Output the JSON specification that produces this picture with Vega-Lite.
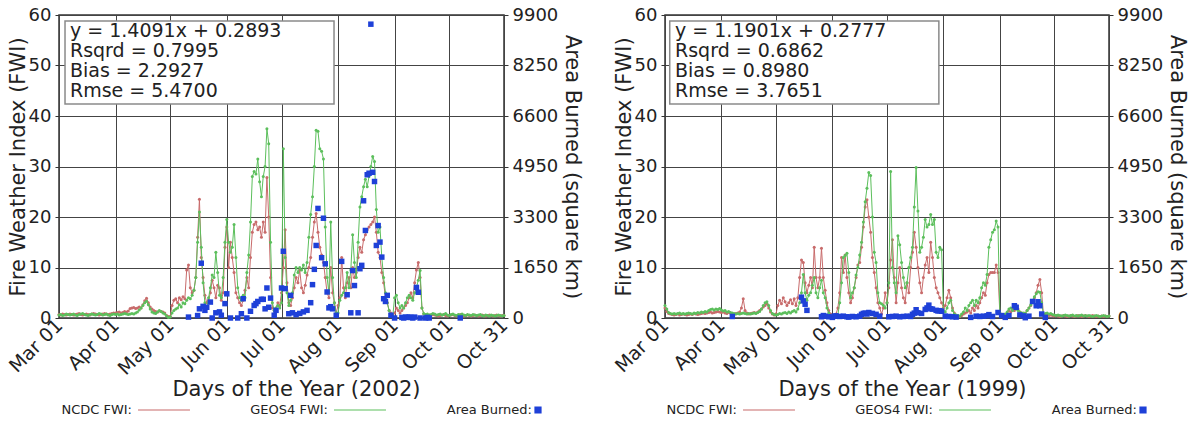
{
  "$schema": "https://vega.github.io/schema/vega-lite/v6.json",
  "background": "white",
  "padding": {"left": 5, "right": 5, "top": 5, "bottom": 0},
  "bounds": "flush",
  "spacing": 161,
  "config": {
    "font": "DejaVu Sans",
    "view": {"stroke": "#333333", "strokeWidth": 1.5},
    "axis": {
      "labelFont": "DejaVu Sans", "labelFontSize": 18, "labelColor": "#222222",
      "titleFont": "DejaVu Sans", "titleFontSize": 21, "titleFontWeight": "normal", "titleColor": "#222222",
      "gridColor": "#444444", "gridOpacity": 1, "gridWidth": 1,
      "domain": false, "tickColor": "#333333", "tickSize": 4
    }
  },
  "resolve": {"legend": {"color": "independent"}},
  "hconcat": [
    {
      "width": 445, "height": 303,
      "resolve": {"scale": {"y": "independent"}},
      "layer": [
        {
          "data": {"name": "fwi2002"},
          "layer": [
            {
              "mark": {"type": "line", "strokeWidth": 1, "point": {"size": 9, "filled": true}},
              "encoding": {
                "x": {"field": "day", "type": "quantitative", "scale": {"domain": [60, 304], "nice": false, "zero": false},
                  "axis": {"values": [60, 91, 121, 152, 182, 213, 244, 274, 304], "labelAngle": -45, "labelAlign": "right", "labelBaseline": "middle", "labelFontSize": 19, "labelOverlap": false, "grid": true, "ticks": false, "labelPadding": 4, "title": "Days of the Year (2002)", "titlePadding": 0, "titleX": 237,
                    "labelExpr": "['Mar 01','Apr 01','May 01','Jun 01','Jul 01','Aug 01','Sep 01','Oct 01','Oct 31'][indexof([60,91,121,152,182,213,244,274,304], datum.value)]"}},
                "y": {"field": "ncdc", "type": "quantitative", "scale": {"domain": [0, 60], "nice": false},
                  "axis": {"values": [0, 10, 20, 30, 40, 50, 60], "grid": true, "title": "Fire Weather Index (FWI)", "labelPadding": 4, "titlePadding": 0}},
                "color": {"datum": "NCDC FWI:", "type": "nominal",
                  "scale": {"domain": ["NCDC FWI:", "GEOS4 FWI:", "Area Burned:"], "range": ["#c86b6b", "#5cbf5c", "#1e40d8"]},
                  "legend": {"title": null, "orient": "none", "legendX": 79, "legendY": 368, "padding": 0, "direction": "horizontal", "labelFont": "DejaVu Sans", "labelFontSize": 13, "labelColor": "#222222",
                    "labelAlign": "right", "labelOffset": -60, "symbolType": "stroke", "symbolSize": 2700, "symbolStrokeWidth": 1.2, "columnPadding": 57,
                    "encode": {"symbols": {"update": {
                      "shape": {"signal": "datum.value === 'Area Burned:' ? 'square' : 'stroke'"},
                      "size": {"signal": "datum.value === 'Area Burned:' ? 36 : 2700"},
                      "x": {"signal": "datum.value === 'Area Burned:' ? 0 : 26"},
                      "fill": {"signal": "datum.value === 'Area Burned:' ? '#1e40d8' : 'transparent'"},
                      "stroke": {"signal": "datum.value === 'NCDC FWI:' ? '#d9a0a0' : datum.value === 'GEOS4 FWI:' ? '#9fd69f' : '#1e40d8'"}
                    }}}}}
              }
            },
            {
              "mark": {"type": "line", "strokeWidth": 1, "point": {"size": 9, "filled": true}},
              "encoding": {
                "x": {"field": "day", "type": "quantitative"},
                "y": {"field": "geos4", "type": "quantitative"},
                "color": {"datum": "GEOS4 FWI:", "type": "nominal"}
              }
            },
            {
              "data": {"values": [{}]},
              "mark": {"type": "rect", "fill": "white", "stroke": "#8a8a8a", "strokeWidth": 1.5},
              "encoding": {"x": {"datum": 63.3}, "x2": {"datum": 210.8}, "y": {"datum": 58.8}, "y2": {"datum": 42.4}}
            },
            {
              "data": {"values": [{}]},
              "mark": {"type": "text", "align": "left", "baseline": "alphabetic", "fontSize": 19, "lineHeight": 20, "color": "#222222"},
              "encoding": {"x": {"datum": 66}, "y": {"datum": 55.6},
                "text": {"value": ["y = 1.4091x + 0.2893", "Rsqrd = 0.7995", "Bias = 2.2927", "Rmse = 5.4700"]}}
            }
          ]
        },
        {
          "data": {"name": "burn2002"},
          "mark": {"type": "square", "size": 30, "filled": true, "opacity": 1},
          "encoding": {
            "x": {"field": "day", "type": "quantitative"},
            "y": {"field": "area", "type": "quantitative", "scale": {"domain": [0, 9900], "nice": false},
              "axis": {"orient": "right", "values": [0, 1650, 3300, 4950, 6600, 8250, 9900], "format": "d", "grid": false, "title": "Area Burned (square km)", "labelPadding": 4, "titlePadding": 4}},
            "color": {"datum": "Area Burned:", "type": "nominal"}
          }
        }
      ]
    },
    {
      "width": 444, "height": 303,
      "resolve": {"scale": {"y": "independent"}},
      "layer": [
        {
          "data": {"name": "fwi1999"},
          "layer": [
            {
              "mark": {"type": "line", "strokeWidth": 1, "point": {"size": 9, "filled": true}},
              "encoding": {
                "x": {"field": "day", "type": "quantitative", "scale": {"domain": [60, 304], "nice": false, "zero": false},
                  "axis": {"values": [60, 91, 121, 152, 182, 213, 244, 274, 304], "labelAngle": -45, "labelAlign": "right", "labelBaseline": "middle", "labelFontSize": 19, "labelOverlap": false, "grid": true, "ticks": false, "labelPadding": 4, "title": "Days of the Year (1999)", "titlePadding": 0, "titleX": 237,
                    "labelExpr": "['Mar 01','Apr 01','May 01','Jun 01','Jul 01','Aug 01','Sep 01','Oct 01','Oct 31'][indexof([60,91,121,152,182,213,244,274,304], datum.value)]"}},
                "y": {"field": "ncdc", "type": "quantitative", "scale": {"domain": [0, 60], "nice": false},
                  "axis": {"values": [0, 10, 20, 30, 40, 50, 60], "grid": true, "title": "Fire Weather Index (FWI)", "labelPadding": 4, "titlePadding": 0}},
                "color": {"datum": "NCDC FWI:", "type": "nominal",
                  "scale": {"domain": ["NCDC FWI:", "GEOS4 FWI:", "Area Burned:"], "range": ["#c86b6b", "#5cbf5c", "#1e40d8"]},
                  "legend": {"title": null, "orient": "none", "legendX": 78, "legendY": 368, "padding": 0, "direction": "horizontal", "labelFont": "DejaVu Sans", "labelFontSize": 13, "labelColor": "#222222",
                    "labelAlign": "right", "labelOffset": -60, "symbolType": "stroke", "symbolSize": 2700, "symbolStrokeWidth": 1.2, "columnPadding": 57,
                    "encode": {"symbols": {"update": {
                      "shape": {"signal": "datum.value === 'Area Burned:' ? 'square' : 'stroke'"},
                      "size": {"signal": "datum.value === 'Area Burned:' ? 36 : 2700"},
                      "x": {"signal": "datum.value === 'Area Burned:' ? 0 : 26"},
                      "fill": {"signal": "datum.value === 'Area Burned:' ? '#1e40d8' : 'transparent'"},
                      "stroke": {"signal": "datum.value === 'NCDC FWI:' ? '#d9a0a0' : datum.value === 'GEOS4 FWI:' ? '#9fd69f' : '#1e40d8'"}
                    }}}}}
              }
            },
            {
              "mark": {"type": "line", "strokeWidth": 1, "point": {"size": 9, "filled": true}},
              "encoding": {
                "x": {"field": "day", "type": "quantitative"},
                "y": {"field": "geos4", "type": "quantitative"},
                "color": {"datum": "GEOS4 FWI:", "type": "nominal"}
              }
            },
            {
              "data": {"values": [{}]},
              "mark": {"type": "rect", "fill": "white", "stroke": "#8a8a8a", "strokeWidth": 1.5},
              "encoding": {"x": {"datum": 62.6}, "x2": {"datum": 210.5}, "y": {"datum": 58.8}, "y2": {"datum": 42.4}}
            },
            {
              "data": {"values": [{}]},
              "mark": {"type": "text", "align": "left", "baseline": "alphabetic", "fontSize": 19, "lineHeight": 20, "color": "#222222"},
              "encoding": {"x": {"datum": 65.5}, "y": {"datum": 55.6},
                "text": {"value": ["y = 1.1901x + 0.2777", "Rsqrd = 0.6862", "Bias = 0.8980", "Rmse = 3.7651"]}}
            }
          ]
        },
        {
          "data": {"name": "burn1999"},
          "mark": {"type": "square", "size": 30, "filled": true, "opacity": 1},
          "encoding": {
            "x": {"field": "day", "type": "quantitative"},
            "y": {"field": "area", "type": "quantitative", "scale": {"domain": [0, 9900], "nice": false},
              "axis": {"orient": "right", "values": [0, 1650, 3300, 4950, 6600, 8250, 9900], "format": "d", "grid": false, "title": "Area Burned (square km)", "labelPadding": 4, "titlePadding": 4}},
            "color": {"datum": "Area Burned:", "type": "nominal"}
          }
        }
      ]
    }
  ],
  "datasets": {
    "fwi2002": [
      {"day":60,"ncdc":0.7,"geos4":0.6},{"day":61,"ncdc":0.6,"geos4":0.7},{"day":62,"ncdc":0.8,"geos4":0.5},{"day":63,"ncdc":0.7,"geos4":0.6},{"day":64,"ncdc":0.6,"geos4":0.8},
      {"day":65,"ncdc":0.7,"geos4":0.7},{"day":66,"ncdc":0.8,"geos4":0.6},{"day":67,"ncdc":0.7,"geos4":0.7},{"day":68,"ncdc":0.6,"geos4":0.8},{"day":69,"ncdc":0.7,"geos4":0.6},
      {"day":70,"ncdc":0.8,"geos4":0.5},{"day":71,"ncdc":0.9,"geos4":0.7},{"day":72,"ncdc":0.7,"geos4":0.8},{"day":73,"ncdc":0.6,"geos4":0.9},{"day":74,"ncdc":0.7,"geos4":0.7},
      {"day":75,"ncdc":0.8,"geos4":0.6},{"day":76,"ncdc":0.7,"geos4":0.5},{"day":77,"ncdc":0.6,"geos4":0.7},{"day":78,"ncdc":0.8,"geos4":0.8},{"day":79,"ncdc":0.9,"geos4":0.7},
      {"day":80,"ncdc":0.8,"geos4":0.6},{"day":81,"ncdc":0.7,"geos4":0.7},{"day":82,"ncdc":0.6,"geos4":0.9},{"day":83,"ncdc":0.7,"geos4":0.8},{"day":84,"ncdc":0.8,"geos4":0.6},
      {"day":85,"ncdc":0.9,"geos4":0.7},{"day":86,"ncdc":0.8,"geos4":0.8},{"day":87,"ncdc":0.7,"geos4":0.6},{"day":88,"ncdc":0.8,"geos4":0.5},{"day":89,"ncdc":0.9,"geos4":0.7},
      {"day":90,"ncdc":1.0,"geos4":0.8},{"day":91,"ncdc":1.0,"geos4":0.7},{"day":92,"ncdc":1.1,"geos4":0.8},{"day":93,"ncdc":1.2,"geos4":0.6},{"day":94,"ncdc":1.0,"geos4":0.7},
      {"day":95,"ncdc":1.1,"geos4":0.8},{"day":96,"ncdc":1.3,"geos4":0.9},{"day":97,"ncdc":1.2,"geos4":0.8},{"day":98,"ncdc":1.4,"geos4":0.7},{"day":99,"ncdc":1.9,"geos4":0.8},
      {"day":100,"ncdc":2.0,"geos4":0.9},{"day":101,"ncdc":2.1,"geos4":0.8},{"day":102,"ncdc":1.9,"geos4":1.0},{"day":103,"ncdc":2.0,"geos4":1.2},{"day":104,"ncdc":2.2,"geos4":1.6},
      {"day":105,"ncdc":2.0,"geos4":2.0},{"day":106,"ncdc":2.6,"geos4":2.5},{"day":107,"ncdc":3.4,"geos4":3.0},{"day":108,"ncdc":3.9,"geos4":3.3},{"day":109,"ncdc":3.0,"geos4":2.6},
      {"day":110,"ncdc":2.2,"geos4":1.8},{"day":111,"ncdc":1.8,"geos4":1.2},{"day":112,"ncdc":1.5,"geos4":1.0},{"day":113,"ncdc":1.3,"geos4":0.9},{"day":114,"ncdc":1.2,"geos4":1.2},
      {"day":115,"ncdc":1.4,"geos4":1.5},{"day":116,"ncdc":1.3,"geos4":1.3},{"day":117,"ncdc":1.2,"geos4":1.0},{"day":118,"ncdc":1.0,"geos4":0.8},{"day":119,"ncdc":0.5,"geos4":0.4},
      {"day":120,"ncdc":0.3,"geos4":0.1},{"day":121,"ncdc":0.3,"geos4":0.2},{"day":122,"ncdc":2.5,"geos4":1.0},{"day":123,"ncdc":3.5,"geos4":1.5},{"day":124,"ncdc":3.8,"geos4":1.8},
      {"day":125,"ncdc":3.0,"geos4":2.0},{"day":126,"ncdc":4.0,"geos4":2.6},{"day":127,"ncdc":3.6,"geos4":2.2},{"day":128,"ncdc":4.2,"geos4":3.0},{"day":129,"ncdc":3.8,"geos4":2.8},
      {"day":130,"ncdc":9.5,"geos4":3.5},{"day":131,"ncdc":10.5,"geos4":4.0},{"day":132,"ncdc":6.0,"geos4":3.8},{"day":133,"ncdc":5.0,"geos4":4.5},{"day":134,"ncdc":5.5,"geos4":5.5},
      {"day":135,"ncdc":8.0,"geos4":8.0},{"day":136,"ncdc":16.0,"geos4":15.0},{"day":137,"ncdc":23.5,"geos4":21.0},{"day":138,"ncdc":12.0,"geos4":14.0},{"day":139,"ncdc":8.0,"geos4":7.0},
      {"day":140,"ncdc":4.5,"geos4":3.0},{"day":141,"ncdc":3.0,"geos4":2.0},{"day":142,"ncdc":3.5,"geos4":4.0},{"day":143,"ncdc":5.0,"geos4":6.0},{"day":144,"ncdc":7.5,"geos4":8.5},
      {"day":145,"ncdc":6.0,"geos4":8.0},{"day":146,"ncdc":4.0,"geos4":13.0},{"day":147,"ncdc":6.5,"geos4":9.0},{"day":148,"ncdc":6.0,"geos4":4.5},{"day":149,"ncdc":3.5,"geos4":4.0},
      {"day":150,"ncdc":5.0,"geos4":8.0},{"day":151,"ncdc":14.0,"geos4":15.0},{"day":152,"ncdc":18.0,"geos4":19.5},{"day":153,"ncdc":10.0,"geos4":15.0},{"day":154,"ncdc":15.0,"geos4":13.0},
      {"day":155,"ncdc":12.0,"geos4":14.0},{"day":156,"ncdc":9.0,"geos4":18.5},{"day":157,"ncdc":5.0,"geos4":12.0},{"day":158,"ncdc":4.0,"geos4":6.0},{"day":159,"ncdc":3.0,"geos4":4.0},
      {"day":160,"ncdc":2.5,"geos4":3.5},{"day":161,"ncdc":3.5,"geos4":4.5},{"day":162,"ncdc":5.5,"geos4":4.0},{"day":163,"ncdc":8.0,"geos4":9.0},{"day":164,"ncdc":6.0,"geos4":12.5},
      {"day":165,"ncdc":12.0,"geos4":19.0},{"day":166,"ncdc":17.0,"geos4":28.0},{"day":167,"ncdc":18.5,"geos4":29.0},{"day":168,"ncdc":19.0,"geos4":28.5},{"day":169,"ncdc":17.5,"geos4":31.5},
      {"day":170,"ncdc":18.0,"geos4":27.0},{"day":171,"ncdc":16.0,"geos4":24.0},{"day":172,"ncdc":19.0,"geos4":28.0},{"day":173,"ncdc":17.0,"geos4":30.0},{"day":174,"ncdc":27.8,"geos4":37.5},
      {"day":175,"ncdc":20.0,"geos4":34.5},{"day":176,"ncdc":8.0,"geos4":15.0},{"day":177,"ncdc":2.0,"geos4":3.0},{"day":178,"ncdc":1.5,"geos4":1.5},{"day":179,"ncdc":2.0,"geos4":2.0},
      {"day":180,"ncdc":3.0,"geos4":2.5},{"day":181,"ncdc":2.5,"geos4":2.0},{"day":182,"ncdc":5.0,"geos4":3.0},{"day":183,"ncdc":10.0,"geos4":33.5},{"day":184,"ncdc":17.5,"geos4":12.0},
      {"day":185,"ncdc":7.0,"geos4":5.0},{"day":186,"ncdc":3.0,"geos4":2.5},{"day":187,"ncdc":2.5,"geos4":3.5},{"day":188,"ncdc":4.0,"geos4":5.0},{"day":189,"ncdc":6.0,"geos4":8.5},
      {"day":190,"ncdc":8.0,"geos4":10.0},{"day":191,"ncdc":7.0,"geos4":9.0},{"day":192,"ncdc":9.5,"geos4":10.0},{"day":193,"ncdc":6.0,"geos4":9.5},{"day":194,"ncdc":5.0,"geos4":10.5},
      {"day":195,"ncdc":6.5,"geos4":9.0},{"day":196,"ncdc":8.5,"geos4":11.0},{"day":197,"ncdc":10.0,"geos4":16.0},{"day":198,"ncdc":12.0,"geos4":20.5},{"day":199,"ncdc":16.0,"geos4":24.0},
      {"day":200,"ncdc":19.0,"geos4":30.0},{"day":201,"ncdc":20.7,"geos4":37.2},{"day":202,"ncdc":17.0,"geos4":37.0},{"day":203,"ncdc":14.0,"geos4":33.5},{"day":204,"ncdc":12.5,"geos4":33.0},
      {"day":205,"ncdc":11.0,"geos4":31.5},{"day":206,"ncdc":8.0,"geos4":18.0},{"day":207,"ncdc":5.0,"geos4":8.0},{"day":208,"ncdc":4.0,"geos4":5.0},{"day":209,"ncdc":10.0,"geos4":19.0},
      {"day":210,"ncdc":5.0,"geos4":8.0},{"day":211,"ncdc":3.0,"geos4":3.0},{"day":212,"ncdc":1.0,"geos4":1.0},{"day":213,"ncdc":2.5,"geos4":1.0},{"day":214,"ncdc":4.0,"geos4":3.5},
      {"day":215,"ncdc":12.0,"geos4":4.5},{"day":216,"ncdc":6.0,"geos4":5.0},{"day":217,"ncdc":4.0,"geos4":6.0},{"day":218,"ncdc":7.0,"geos4":9.0},{"day":219,"ncdc":8.0,"geos4":6.0},
      {"day":220,"ncdc":6.0,"geos4":9.5},{"day":221,"ncdc":10.0,"geos4":16.5},{"day":222,"ncdc":8.0,"geos4":11.0},{"day":223,"ncdc":9.0,"geos4":8.0},{"day":224,"ncdc":12.0,"geos4":15.0},
      {"day":225,"ncdc":14.0,"geos4":22.0},{"day":226,"ncdc":13.0,"geos4":24.0},{"day":227,"ncdc":15.5,"geos4":26.0},{"day":228,"ncdc":16.5,"geos4":27.5},{"day":229,"ncdc":17.5,"geos4":26.0},
      {"day":230,"ncdc":18.0,"geos4":28.0},{"day":231,"ncdc":18.5,"geos4":30.0},{"day":232,"ncdc":19.0,"geos4":32.0},{"day":233,"ncdc":20.0,"geos4":31.0},{"day":234,"ncdc":17.0,"geos4":21.5},
      {"day":235,"ncdc":13.0,"geos4":17.0},{"day":236,"ncdc":12.0,"geos4":18.0},{"day":237,"ncdc":9.0,"geos4":12.0},{"day":238,"ncdc":7.0,"geos4":8.0},{"day":239,"ncdc":4.0,"geos4":5.0},
      {"day":240,"ncdc":3.0,"geos4":3.0},{"day":241,"ncdc":1.5,"geos4":1.5},{"day":242,"ncdc":1.0,"geos4":0.5},{"day":243,"ncdc":0.5,"geos4":0.3},{"day":244,"ncdc":1.0,"geos4":4.0},
      {"day":245,"ncdc":2.0,"geos4":4.5},{"day":246,"ncdc":1.5,"geos4":3.0},{"day":247,"ncdc":1.0,"geos4":2.0},{"day":248,"ncdc":1.5,"geos4":2.5},{"day":249,"ncdc":2.0,"geos4":2.0},
      {"day":250,"ncdc":2.5,"geos4":3.0},{"day":251,"ncdc":3.0,"geos4":4.0},{"day":252,"ncdc":4.0,"geos4":4.5},{"day":253,"ncdc":5.0,"geos4":4.0},{"day":254,"ncdc":4.0,"geos4":3.5},
      {"day":255,"ncdc":7.0,"geos4":5.0},{"day":256,"ncdc":9.5,"geos4":6.0},{"day":257,"ncdc":11.0,"geos4":7.5},{"day":258,"ncdc":8.0,"geos4":9.4},{"day":259,"ncdc":2.0,"geos4":2.0},
      {"day":260,"ncdc":0.8,"geos4":0.9},{"day":261,"ncdc":0.6,"geos4":0.7},{"day":262,"ncdc":0.5,"geos4":0.8},{"day":263,"ncdc":0.6,"geos4":0.6},{"day":264,"ncdc":0.5,"geos4":0.7},
      {"day":265,"ncdc":0.7,"geos4":0.9},{"day":266,"ncdc":0.6,"geos4":0.8},{"day":267,"ncdc":0.5,"geos4":0.6},{"day":268,"ncdc":0.4,"geos4":0.7},{"day":269,"ncdc":0.5,"geos4":0.8},
      {"day":270,"ncdc":0.6,"geos4":0.6},{"day":271,"ncdc":0.7,"geos4":0.7},{"day":272,"ncdc":0.5,"geos4":0.9},{"day":273,"ncdc":0.4,"geos4":0.6},{"day":274,"ncdc":0.5,"geos4":0.5},
      {"day":275,"ncdc":0.6,"geos4":0.7},{"day":276,"ncdc":0.7,"geos4":0.8},{"day":277,"ncdc":0.5,"geos4":0.6},{"day":278,"ncdc":0.4,"geos4":0.5},{"day":279,"ncdc":0.6,"geos4":0.7},
      {"day":280,"ncdc":0.7,"geos4":0.6},{"day":281,"ncdc":0.5,"geos4":0.8},{"day":282,"ncdc":0.4,"geos4":0.6},{"day":283,"ncdc":0.5,"geos4":0.5},{"day":284,"ncdc":0.6,"geos4":0.7},
      {"day":285,"ncdc":0.5,"geos4":0.6},{"day":286,"ncdc":0.4,"geos4":0.5},{"day":287,"ncdc":0.5,"geos4":0.7},{"day":288,"ncdc":0.6,"geos4":0.6},{"day":289,"ncdc":0.5,"geos4":0.5},
      {"day":290,"ncdc":0.4,"geos4":0.6},{"day":291,"ncdc":0.5,"geos4":0.7},{"day":292,"ncdc":0.6,"geos4":0.5},{"day":293,"ncdc":0.5,"geos4":0.4},{"day":294,"ncdc":0.4,"geos4":0.6},
      {"day":295,"ncdc":0.5,"geos4":0.5},{"day":296,"ncdc":0.6,"geos4":0.4},{"day":297,"ncdc":0.5,"geos4":0.6},{"day":298,"ncdc":0.4,"geos4":0.5},{"day":299,"ncdc":0.5,"geos4":0.4},
      {"day":300,"ncdc":0.6,"geos4":0.5},{"day":301,"ncdc":0.5,"geos4":0.6},{"day":302,"ncdc":0.4,"geos4":0.5},{"day":303,"ncdc":0.5,"geos4":0.4},{"day":304,"ncdc":0.5,"geos4":0.5}
    ],
    "burn2002": [
      {"day":131,"area":30},{"day":136,"area":80},{"day":137,"area":300},{"day":138,"area":1790},{"day":139,"area":380},{"day":140,"area":250},{"day":141,"area":350},
      {"day":143,"area":520},{"day":144,"area":0},{"day":146,"area":170},{"day":148,"area":200},{"day":149,"area":90},{"day":151,"area":470},{"day":152,"area":790},
      {"day":154,"area":0},{"day":158,"area":0},{"day":160,"area":140},{"day":161,"area":630},{"day":163,"area":0},{"day":165,"area":220},{"day":167,"area":410},
      {"day":168,"area":470},{"day":169,"area":540},{"day":171,"area":610},{"day":172,"area":610},{"day":173,"area":300},{"day":174,"area":980},{"day":175,"area":350},
      {"day":176,"area":650},{"day":178,"area":90},{"day":179,"area":250},{"day":182,"area":980},{"day":183,"area":2180},{"day":184,"area":960},{"day":186,"area":140},
      {"day":187,"area":740},{"day":188,"area":170},{"day":190,"area":110},{"day":192,"area":150},{"day":194,"area":200},{"day":196,"area":250},{"day":198,"area":500},
      {"day":199,"area":1090},{"day":200,"area":1590},{"day":201,"area":2370},{"day":202,"area":3580},{"day":204,"area":1970},{"day":205,"area":3260},{"day":206,"area":1770},
      {"day":207,"area":850},{"day":208,"area":330},{"day":209,"area":370},{"day":210,"area":300},{"day":212,"area":90},{"day":215,"area":1850},{"day":218,"area":760},
      {"day":220,"area":170},{"day":221,"area":1550},{"day":222,"area":1060},{"day":224,"area":170},{"day":225,"area":1610},{"day":226,"area":1720},{"day":227,"area":3830},
      {"day":228,"area":2860},{"day":229,"area":4680},{"day":230,"area":4730},{"day":231,"area":9600},{"day":232,"area":4760},{"day":233,"area":4460},{"day":234,"area":2370},
      {"day":235,"area":3020},{"day":236,"area":2480},{"day":237,"area":1990},{"day":238,"area":630},{"day":239,"area":540},{"day":240,"area":740},{"day":242,"area":90},
      {"day":244,"area":0},{"day":248,"area":20},{"day":249,"area":0},{"day":250,"area":30},{"day":251,"area":20},{"day":252,"area":30},{"day":253,"area":20},
      {"day":254,"area":0},{"day":255,"area":30},{"day":256,"area":1000},{"day":257,"area":840},{"day":258,"area":0},{"day":261,"area":0},{"day":262,"area":20},
      {"day":263,"area":0},{"day":280,"area":0}
    ],
    "fwi1999": [
      {"day":60,"ncdc":2.0,"geos4":2.5},{"day":61,"ncdc":1.3,"geos4":1.8},{"day":62,"ncdc":0.9,"geos4":1.1},{"day":63,"ncdc":0.8,"geos4":0.9},{"day":64,"ncdc":0.7,"geos4":0.8},
      {"day":65,"ncdc":0.6,"geos4":0.9},{"day":66,"ncdc":0.7,"geos4":0.8},{"day":67,"ncdc":0.8,"geos4":0.9},{"day":68,"ncdc":0.6,"geos4":1.0},{"day":69,"ncdc":0.7,"geos4":0.8},
      {"day":70,"ncdc":0.8,"geos4":0.9},{"day":71,"ncdc":0.7,"geos4":0.8},{"day":72,"ncdc":0.6,"geos4":0.9},{"day":73,"ncdc":0.7,"geos4":1.0},{"day":74,"ncdc":0.8,"geos4":0.9},
      {"day":75,"ncdc":0.7,"geos4":0.8},{"day":76,"ncdc":0.9,"geos4":1.0},{"day":77,"ncdc":0.8,"geos4":0.9},{"day":78,"ncdc":0.7,"geos4":1.1},{"day":79,"ncdc":0.8,"geos4":1.0},
      {"day":80,"ncdc":0.9,"geos4":1.2},{"day":81,"ncdc":1.0,"geos4":1.1},{"day":82,"ncdc":0.9,"geos4":1.3},{"day":83,"ncdc":1.0,"geos4":1.2},{"day":84,"ncdc":1.1,"geos4":1.5},
      {"day":85,"ncdc":1.2,"geos4":1.7},{"day":86,"ncdc":1.0,"geos4":1.8},{"day":87,"ncdc":1.1,"geos4":1.6},{"day":88,"ncdc":1.2,"geos4":1.8},{"day":89,"ncdc":1.3,"geos4":1.7},
      {"day":90,"ncdc":1.2,"geos4":1.9},{"day":91,"ncdc":1.1,"geos4":1.6},{"day":92,"ncdc":1.2,"geos4":1.4},{"day":93,"ncdc":1.0,"geos4":1.5},{"day":94,"ncdc":0.9,"geos4":1.2},
      {"day":95,"ncdc":1.1,"geos4":1.3},{"day":96,"ncdc":1.0,"geos4":1.1},{"day":97,"ncdc":0.8,"geos4":1.0},{"day":98,"ncdc":0.7,"geos4":0.9},{"day":99,"ncdc":0.9,"geos4":0.8},
      {"day":100,"ncdc":1.0,"geos4":0.9},{"day":101,"ncdc":1.2,"geos4":0.8},{"day":102,"ncdc":2.0,"geos4":0.9},{"day":103,"ncdc":3.8,"geos4":1.0},{"day":104,"ncdc":1.5,"geos4":0.9},
      {"day":105,"ncdc":1.0,"geos4":0.8},{"day":106,"ncdc":0.8,"geos4":0.9},{"day":107,"ncdc":0.9,"geos4":0.8},{"day":108,"ncdc":1.0,"geos4":0.9},{"day":109,"ncdc":1.1,"geos4":1.0},
      {"day":110,"ncdc":1.0,"geos4":0.9},{"day":111,"ncdc":1.2,"geos4":1.1},{"day":112,"ncdc":1.5,"geos4":1.3},{"day":113,"ncdc":1.8,"geos4":1.8},{"day":114,"ncdc":2.2,"geos4":2.5},
      {"day":115,"ncdc":2.5,"geos4":3.0},{"day":116,"ncdc":2.8,"geos4":3.2},{"day":117,"ncdc":2.0,"geos4":2.5},{"day":118,"ncdc":1.2,"geos4":1.5},{"day":119,"ncdc":0.8,"geos4":0.9},
      {"day":120,"ncdc":0.6,"geos4":0.7},{"day":121,"ncdc":0.8,"geos4":0.6},{"day":122,"ncdc":2.5,"geos4":0.7},{"day":123,"ncdc":3.5,"geos4":0.9},{"day":124,"ncdc":2.8,"geos4":0.8},
      {"day":125,"ncdc":4.0,"geos4":1.0},{"day":126,"ncdc":3.2,"geos4":1.1},{"day":127,"ncdc":2.5,"geos4":0.9},{"day":128,"ncdc":3.0,"geos4":1.2},{"day":129,"ncdc":3.6,"geos4":1.0},
      {"day":130,"ncdc":2.8,"geos4":1.3},{"day":131,"ncdc":3.8,"geos4":1.5},{"day":132,"ncdc":2.5,"geos4":1.2},{"day":133,"ncdc":4.0,"geos4":1.8},{"day":134,"ncdc":8.0,"geos4":3.0},
      {"day":135,"ncdc":11.5,"geos4":5.0},{"day":136,"ncdc":11.0,"geos4":8.6},{"day":137,"ncdc":7.0,"geos4":5.0},{"day":138,"ncdc":5.0,"geos4":3.5},{"day":139,"ncdc":6.5,"geos4":4.5},
      {"day":140,"ncdc":8.0,"geos4":5.0},{"day":141,"ncdc":6.0,"geos4":6.5},{"day":142,"ncdc":14.0,"geos4":8.0},{"day":143,"ncdc":8.0,"geos4":5.0},{"day":144,"ncdc":6.0,"geos4":4.0},
      {"day":145,"ncdc":8.0,"geos4":6.0},{"day":146,"ncdc":13.8,"geos4":7.5},{"day":147,"ncdc":8.0,"geos4":5.0},{"day":148,"ncdc":5.5,"geos4":4.0},{"day":149,"ncdc":3.0,"geos4":2.0},
      {"day":150,"ncdc":1.5,"geos4":1.0},{"day":151,"ncdc":0.8,"geos4":0.5},{"day":152,"ncdc":0.5,"geos4":0.4},{"day":153,"ncdc":0.6,"geos4":0.5},{"day":154,"ncdc":0.8,"geos4":0.4},
      {"day":155,"ncdc":2.0,"geos4":0.6},{"day":156,"ncdc":5.0,"geos4":3.0},{"day":157,"ncdc":12.0,"geos4":7.0},{"day":158,"ncdc":9.0,"geos4":12.0},{"day":159,"ncdc":12.5,"geos4":12.4},
      {"day":160,"ncdc":8.0,"geos4":12.8},{"day":161,"ncdc":5.0,"geos4":9.0},{"day":162,"ncdc":3.0,"geos4":4.0},{"day":163,"ncdc":4.0,"geos4":5.0},{"day":164,"ncdc":6.0,"geos4":6.0},
      {"day":165,"ncdc":8.0,"geos4":8.5},{"day":166,"ncdc":10.5,"geos4":10.0},{"day":167,"ncdc":11.0,"geos4":12.5},{"day":168,"ncdc":14.0,"geos4":15.0},{"day":169,"ncdc":18.0,"geos4":19.0},
      {"day":170,"ncdc":22.0,"geos4":23.0},{"day":171,"ncdc":23.4,"geos4":25.7},{"day":172,"ncdc":20.0,"geos4":28.8},{"day":173,"ncdc":17.0,"geos4":28.2},{"day":174,"ncdc":12.0,"geos4":20.0},
      {"day":175,"ncdc":9.0,"geos4":13.0},{"day":176,"ncdc":6.0,"geos4":11.0},{"day":177,"ncdc":3.0,"geos4":5.0},{"day":178,"ncdc":2.0,"geos4":3.0},{"day":179,"ncdc":0.8,"geos4":2.8},
      {"day":180,"ncdc":2.0,"geos4":2.5},{"day":181,"ncdc":5.0,"geos4":2.0},{"day":182,"ncdc":3.0,"geos4":3.0},{"day":183,"ncdc":6.0,"geos4":7.0},{"day":184,"ncdc":11.5,"geos4":29.0},
      {"day":185,"ncdc":15.5,"geos4":10.0},{"day":186,"ncdc":8.0,"geos4":7.0},{"day":187,"ncdc":3.0,"geos4":5.0},{"day":188,"ncdc":7.0,"geos4":16.3},{"day":189,"ncdc":10.0,"geos4":14.5},
      {"day":190,"ncdc":6.0,"geos4":11.0},{"day":191,"ncdc":4.0,"geos4":8.0},{"day":192,"ncdc":3.0,"geos4":6.0},{"day":193,"ncdc":7.0,"geos4":7.0},{"day":194,"ncdc":5.0,"geos4":10.0},
      {"day":195,"ncdc":10.0,"geos4":12.0},{"day":196,"ncdc":13.0,"geos4":14.0},{"day":197,"ncdc":17.0,"geos4":22.0},{"day":198,"ncdc":14.0,"geos4":29.8},{"day":199,"ncdc":10.0,"geos4":21.2},
      {"day":200,"ncdc":7.0,"geos4":13.0},{"day":201,"ncdc":5.0,"geos4":14.0},{"day":202,"ncdc":8.0,"geos4":16.0},{"day":203,"ncdc":10.5,"geos4":19.5},{"day":204,"ncdc":12.0,"geos4":18.0},
      {"day":205,"ncdc":9.0,"geos4":18.5},{"day":206,"ncdc":15.0,"geos4":20.5},{"day":207,"ncdc":12.0,"geos4":18.5},{"day":208,"ncdc":8.0,"geos4":19.5},{"day":209,"ncdc":6.0,"geos4":13.0},
      {"day":210,"ncdc":5.0,"geos4":12.0},{"day":211,"ncdc":4.0,"geos4":14.0},{"day":212,"ncdc":3.0,"geos4":13.5},{"day":213,"ncdc":2.0,"geos4":1.5},{"day":214,"ncdc":2.5,"geos4":1.2},
      {"day":215,"ncdc":4.0,"geos4":2.0},{"day":216,"ncdc":5.5,"geos4":3.0},{"day":217,"ncdc":4.0,"geos4":3.5},{"day":218,"ncdc":2.0,"geos4":1.5},{"day":219,"ncdc":1.0,"geos4":0.8},
      {"day":220,"ncdc":0.5,"geos4":0.6},{"day":221,"ncdc":0.4,"geos4":0.5},{"day":222,"ncdc":0.3,"geos4":0.4},{"day":223,"ncdc":0.5,"geos4":0.8},{"day":224,"ncdc":0.8,"geos4":1.2},
      {"day":225,"ncdc":1.0,"geos4":2.0},{"day":226,"ncdc":1.2,"geos4":1.5},{"day":227,"ncdc":1.5,"geos4":2.5},{"day":228,"ncdc":1.0,"geos4":3.0},{"day":229,"ncdc":2.0,"geos4":3.5},
      {"day":230,"ncdc":1.5,"geos4":2.5},{"day":231,"ncdc":2.5,"geos4":3.5},{"day":232,"ncdc":2.0,"geos4":3.0},{"day":233,"ncdc":3.0,"geos4":4.0},{"day":234,"ncdc":4.0,"geos4":6.0},
      {"day":235,"ncdc":5.0,"geos4":7.0},{"day":236,"ncdc":4.5,"geos4":6.5},{"day":237,"ncdc":7.0,"geos4":8.6},{"day":238,"ncdc":8.6,"geos4":14.0},{"day":239,"ncdc":9.0,"geos4":15.5},
      {"day":240,"ncdc":9.0,"geos4":17.0},{"day":241,"ncdc":9.0,"geos4":17.5},{"day":242,"ncdc":10.5,"geos4":19.2},{"day":243,"ncdc":9.0,"geos4":18.0},{"day":244,"ncdc":1.0,"geos4":1.0},
      {"day":245,"ncdc":0.6,"geos4":0.5},{"day":246,"ncdc":0.5,"geos4":0.6},{"day":247,"ncdc":0.7,"geos4":0.8},{"day":248,"ncdc":1.0,"geos4":1.2},{"day":249,"ncdc":1.5,"geos4":1.8},
      {"day":250,"ncdc":1.2,"geos4":2.0},{"day":251,"ncdc":2.0,"geos4":1.5},{"day":252,"ncdc":1.5,"geos4":2.0},{"day":253,"ncdc":2.5,"geos4":1.8},{"day":254,"ncdc":1.8,"geos4":1.5},
      {"day":255,"ncdc":1.2,"geos4":1.2},{"day":256,"ncdc":1.0,"geos4":1.0},{"day":257,"ncdc":0.8,"geos4":1.0},{"day":258,"ncdc":1.0,"geos4":0.9},{"day":259,"ncdc":1.5,"geos4":1.5},
      {"day":260,"ncdc":2.0,"geos4":2.0},{"day":261,"ncdc":2.5,"geos4":2.6},{"day":262,"ncdc":3.0,"geos4":3.5},{"day":263,"ncdc":4.0,"geos4":4.2},{"day":264,"ncdc":5.0,"geos4":4.8},
      {"day":265,"ncdc":6.5,"geos4":5.2},{"day":266,"ncdc":7.6,"geos4":5.1},{"day":267,"ncdc":5.0,"geos4":3.0},{"day":268,"ncdc":0.6,"geos4":0.6},{"day":269,"ncdc":0.7,"geos4":0.9},
      {"day":270,"ncdc":0.6,"geos4":1.0},{"day":271,"ncdc":0.5,"geos4":0.8},{"day":272,"ncdc":0.6,"geos4":0.9},{"day":273,"ncdc":0.5,"geos4":0.7},{"day":274,"ncdc":0.4,"geos4":0.6},
      {"day":275,"ncdc":0.5,"geos4":0.5},{"day":276,"ncdc":0.4,"geos4":0.6},{"day":277,"ncdc":0.3,"geos4":0.5},{"day":278,"ncdc":0.4,"geos4":0.4},{"day":279,"ncdc":0.5,"geos4":0.5},
      {"day":280,"ncdc":0.4,"geos4":0.6},{"day":281,"ncdc":0.3,"geos4":0.5},{"day":282,"ncdc":0.4,"geos4":0.4},{"day":283,"ncdc":0.5,"geos4":0.5},{"day":284,"ncdc":0.4,"geos4":0.6},
      {"day":285,"ncdc":0.3,"geos4":0.4},{"day":286,"ncdc":0.4,"geos4":0.5},{"day":287,"ncdc":0.5,"geos4":0.4},{"day":288,"ncdc":0.4,"geos4":0.5},{"day":289,"ncdc":0.3,"geos4":0.6},
      {"day":290,"ncdc":0.4,"geos4":0.4},{"day":291,"ncdc":0.5,"geos4":0.5},{"day":292,"ncdc":0.4,"geos4":0.4},{"day":293,"ncdc":0.3,"geos4":0.5},{"day":294,"ncdc":0.4,"geos4":0.4},
      {"day":295,"ncdc":0.5,"geos4":0.3},{"day":296,"ncdc":0.4,"geos4":0.4},{"day":297,"ncdc":0.3,"geos4":0.5},{"day":298,"ncdc":0.4,"geos4":0.4},{"day":299,"ncdc":0.3,"geos4":0.3},
      {"day":300,"ncdc":0.4,"geos4":0.4},{"day":301,"ncdc":0.3,"geos4":0.5},{"day":302,"ncdc":0.4,"geos4":0.4},{"day":303,"ncdc":0.3,"geos4":0.3},{"day":304,"ncdc":0.4,"geos4":0.4}
    ],
    "burn1999": [
      {"day":97,"area":50},{"day":135,"area":680},{"day":136,"area":560},{"day":137,"area":450},{"day":138,"area":250},{"day":146,"area":40},{"day":147,"area":80},
      {"day":148,"area":60},{"day":150,"area":40},{"day":152,"area":20},{"day":153,"area":60},{"day":154,"area":70},{"day":156,"area":50},{"day":158,"area":60},
      {"day":160,"area":40},{"day":161,"area":30},{"day":163,"area":50},{"day":165,"area":40},{"day":167,"area":60},{"day":168,"area":120},{"day":169,"area":150},
      {"day":170,"area":160},{"day":171,"area":130},{"day":172,"area":180},{"day":174,"area":150},{"day":176,"area":120},{"day":178,"area":60},{"day":183,"area":40},
      {"day":185,"area":50},{"day":187,"area":60},{"day":189,"area":40},{"day":191,"area":50},{"day":193,"area":60},{"day":195,"area":50},{"day":196,"area":120},
      {"day":197,"area":160},{"day":198,"area":270},{"day":199,"area":170},{"day":201,"area":150},{"day":203,"area":280},{"day":204,"area":330},{"day":205,"area":420},
      {"day":206,"area":300},{"day":207,"area":290},{"day":209,"area":250},{"day":210,"area":230},{"day":211,"area":240},{"day":212,"area":220},{"day":214,"area":60},
      {"day":216,"area":50},{"day":218,"area":40},{"day":220,"area":30},{"day":228,"area":20},{"day":231,"area":60},{"day":233,"area":50},{"day":235,"area":60},
      {"day":237,"area":70},{"day":238,"area":110},{"day":240,"area":50},{"day":243,"area":180},{"day":245,"area":80},{"day":247,"area":20},{"day":249,"area":80},
      {"day":252,"area":400},{"day":253,"area":350},{"day":255,"area":100},{"day":257,"area":70},{"day":258,"area":10},{"day":260,"area":60},{"day":262,"area":540},
      {"day":264,"area":400},{"day":265,"area":530},{"day":266,"area":400},{"day":267,"area":130},{"day":269,"area":20}
    ]
  }
}
